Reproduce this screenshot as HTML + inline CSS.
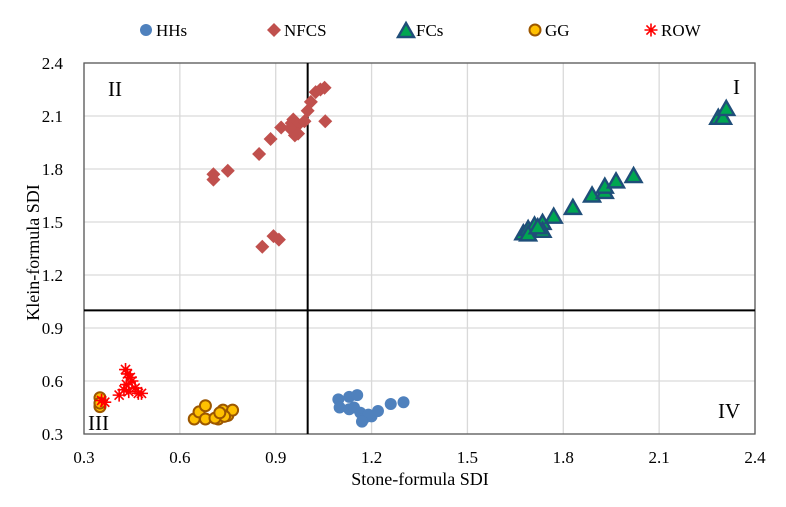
<!DOCTYPE html>
<html><head><meta charset="utf-8"><style>
body{margin:0;background:#fff;}
svg text{font-family:"Liberation Serif",serif;fill:#000;}
</style></head><body>
<svg id="c" width="786" height="502" viewBox="0 0 786 502"></svg>
<script>
const xTicks=[0.3,0.6,0.9,1.2,1.5,1.8,2.1,2.4];
const yTicks=[0.3,0.6,0.9,1.2,1.5,1.8,2.1,2.4];
const hhX=[1.096,1.13,1.155,1.1,1.13,1.145,1.165,1.175,1.2,1.22,1.19,1.26,1.3,1.17];
const hhY=[0.496,0.51,0.52,0.45,0.44,0.45,0.42,0.385,0.40,0.43,0.41,0.47,0.48,0.37];
const nfX=[0.705,0.705,0.75,0.848,0.884,0.917,0.95,0.955,0.96,0.97,0.99,1.0,1.01,1.025,1.04,1.053,1.055,0.858,0.893,0.91,0.945,0.97];
const nfY=[1.77,1.74,1.79,1.885,1.97,2.035,2.06,2.08,1.99,2.05,2.07,2.13,2.18,2.235,2.25,2.26,2.07,1.36,1.42,1.40,2.03,2.0];
const fcX=[1.675,1.69,1.71,1.735,1.735,1.77,1.83,1.89,1.93,1.93,1.965,2.02,2.285,2.30,2.31,1.69,1.72];
const fcY=[1.436,1.46,1.48,1.495,1.45,1.53,1.58,1.65,1.67,1.70,1.73,1.76,2.09,2.09,2.14,1.43,1.47];
const ggX=[0.645,0.66,0.68,0.68,0.72,0.735,0.75,0.765,0.74,0.35,0.35,0.35,0.71,0.725];
const ggY=[0.385,0.425,0.46,0.385,0.385,0.435,0.405,0.435,0.40,0.505,0.455,0.475,0.39,0.42];
const rwX=[0.355,0.365,0.41,0.43,0.436,0.433,0.45,0.46,0.47,0.48,0.44,0.445,0.425];
const rwY=[0.49,0.48,0.52,0.665,0.64,0.58,0.60,0.56,0.53,0.53,0.54,0.62,0.55];

const L=84,R=755,T=63,B=434;
const sx=v=>L+(v-0.3)/2.1*(R-L);
const sy=v=>B-(v-0.3)/2.1*(B-T);
const svg=document.getElementById('c');
const NS='http://www.w3.org/2000/svg';
function mk(tag,attrs,parent){const e=document.createElementNS(NS,tag);for(const k in attrs)e.setAttribute(k,attrs[k]);(parent||svg).appendChild(e);return e;}

const grid=mk('g',{});


xTicks.forEach(t=>{mk('line',{x1:sx(t),x2:sx(t),y1:T,y2:B,stroke:'#d9d9d9','stroke-width':1.3},grid);
 const tx=mk('text',{x:sx(t),y:B+29,'text-anchor':'middle','font-size':17});tx.textContent=t.toFixed(1);
 
 });
yTicks.forEach(t=>{mk('line',{x1:L,x2:R,y1:sy(t),y2:sy(t),stroke:'#d9d9d9','stroke-width':1.3},grid);
 const tx=mk('text',{x:L-21,y:sy(t)+6,'text-anchor':'end','font-size':17});tx.textContent=t.toFixed(1);
 
 });
const fr=mk('rect',{x:L,y:T,width:R-L,height:B-T,fill:'none',stroke:'#595959','stroke-width':1.3});


const vl=mk('line',{x1:sx(1),x2:sx(1),y1:T,y2:B,stroke:'#000','stroke-width':2});


const hl=mk('line',{x1:L,x2:R,y1:sy(1),y2:sy(1),stroke:'#000','stroke-width':2});



function circle(g,x,y){mk('circle',{cx:x,cy:y,r:6,fill:'#4f81bd'},g);}
function diamond(g,x,y){mk('path',{d:`M${x} ${y-7}L${x+7} ${y}L${x} ${y+7}L${x-7} ${y}Z`,fill:'#c0504d'},g);}
function tri(g,x,y){mk('path',{d:`M${x} ${y-8}L${x+8} ${y+6}L${x-8} ${y+6}Z`,fill:'#00a651',stroke:'#1f4e79','stroke-width':2.4,'stroke-linejoin':'miter'},g);}
function ring(g,x,y){mk('circle',{cx:x,cy:y,r:5.5,fill:'#ffc000',stroke:'#9c5700','stroke-width':2},g);}
function star(g,x,y){const s=6.5;mk('path',{d:`M${x-s} ${y}H${x+s}M${x-s*0.7} ${y-s*0.7}L${x+s*0.7} ${y+s*0.7}M${x-s*0.7} ${y+s*0.7}L${x+s*0.7} ${y-s*0.7}M${x} ${y-s}V${y+s}`,stroke:'#ff0000','stroke-width':1.6,fill:'none'},g);}

function series(name,xs,ys,fn){const g=mk('g',{});
 
 
 xs.forEach((v,i)=>fn(g,sx(v),sy(ys[i])));}
series('series-nfcs',nfX,nfY,diamond);
series('series-hhs',hhX,hhY,circle);
series('series-gg',ggX,ggY,ring);
series('series-row',rwX,rwY,star);
series('series-fcs',fcX,fcY,tri);

[['II',108,96,'quadrant-label-ii'],['I',733,94,'quadrant-label-i'],['III',88,430,'quadrant-label-iii'],['IV',718,418,'quadrant-label-iv']].forEach(q=>{
 const t=mk('text',{x:q[1],y:q[2],'font-size':21});t.textContent=q[0];
 
 });

const xt=mk('text',{x:420,y:485,'text-anchor':'middle','font-size':18});xt.textContent='Stone-formula SDI';


const yt=mk('text',{x:0,y:0,'text-anchor':'middle','font-size':18,transform:`translate(39,${(T+B)/2+4}) rotate(-90)`});yt.textContent='Klein-formula SDI';



const leg=mk('g',{});


[['HHs',146,circle],['NFCS',274,diamond],['FCs',406,tri],['GG',535,ring],['ROW',651,star]].forEach(e=>{
 const g=mk('g',{},leg);
 
 
 e[2](g,e[1],e[2]===tri?31:30);
 const t=mk('text',{x:e[1]+10,y:36,'font-size':17},g);t.textContent=e[0];});
</script>
</body></html>
